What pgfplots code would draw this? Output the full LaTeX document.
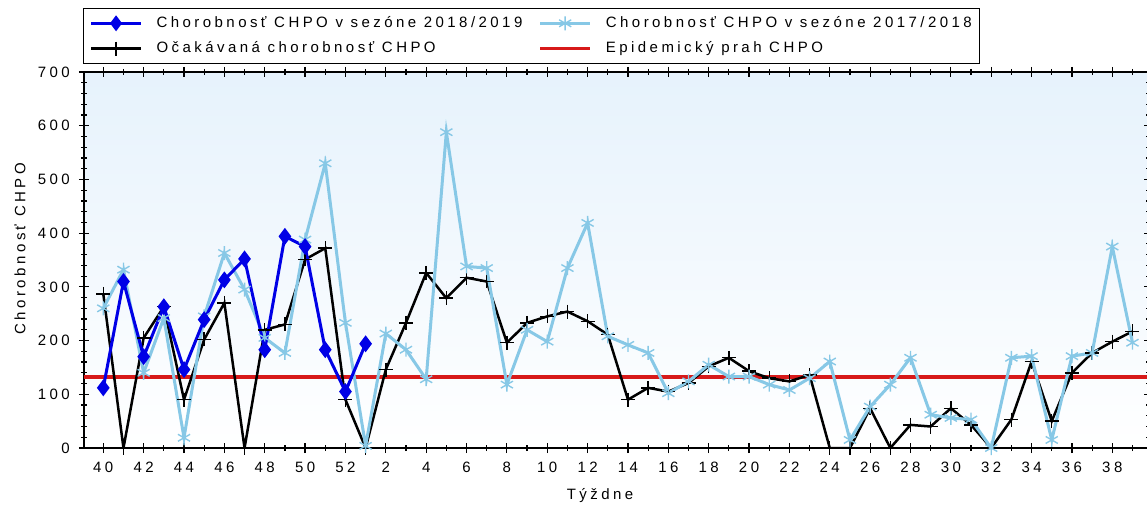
\documentclass[border=0pt]{standalone}
\usepackage{fontspec}
\setmainfont{Liberation Sans}[LetterSpace=23]
\usepackage{pgfplots}
\usepackage{pgfplotstable}
\pgfplotsset{compat=1.18}
\definecolor{cblue}{RGB}{0,0,230}
\definecolor{clblue}{RGB}{135,200,230}
\definecolor{cred}{RGB}{215,25,25}
\definecolor{cbg}{RGB}{230,242,252}
\pgfplotstableread{
i blue lblue black
0 112 260 287
1 310 332 0
2 170 140 205
3 263 242 263
4 146 19 90
5 239 245 202
6 313 363 270
7 352 295 0
8 183 205 220
9 394 177 230
10 375 388 351
11 183 530 372
12 105 233 90
13 194 4 0
14 nan 213 146
15 nan 183 233
16 nan 128 326
17 nan 588 279
18 nan 338 317
19 nan 335 310
20 nan 118 196
21 nan 220 233
22 nan 198 245
23 nan 335 254
24 nan 419 236
25 nan 208 211
26 nan 192 90
27 nan 177 112
28 nan 102 105
29 nan 124 121
30 nan 155 152
31 nan 133 168
32 nan 133 143
33 nan 118 130
34 nan 108 124
35 nan 130 136
36 nan 161 0
37 nan 15 0
38 nan 77 74
39 nan 118 0
40 nan 168 43
41 nan 62 40
42 nan 56 74
43 nan 53 43
44 nan 0 0
45 nan 168 53
46 nan 171 161
47 nan 15 50
48 nan 171 140
49 nan 177 177
50 nan 375 198
51 nan 196 217
}\data
\begin{document}
\fontsize{15}{18}\selectfont
\begin{tikzpicture}[x=1pt,y=1pt]
\begin{axis}[
  at={(0,0)}, anchor=south west,
  scale only axis, width=1065pt, height=376pt,
  xmin=-0.956, xmax=51.82, ymin=0, ymax=700,
  axis line style={line width=1.3pt},
  axis background/.style={top color=cbg, bottom color=white},
  xtick={0,2,...,50},
  xticklabels={40,42,44,46,48,50,52,2,4,6,8,10,12,14,16,18,20,22,24,26,28,30,32,34,36,38},
  minor xtick={1,3,...,51},
  ytick={0,100,...,700},
  minor y tick num=4,
  tick align=center,
  major tick length=10pt, minor tick length=6pt,
  every tick/.style={black, line width=1.2pt},
  every minor tick/.style={black, line width=1.2pt},
  /pgf/number format/assume math mode=true,
  ticklabel style={font=\fontsize{15}{18}\selectfont},
  yticklabel style={xshift=-4pt},
  xticklabel style={yshift=-4pt},
  xlabel={Týždne},
  ylabel={Chorobnosť CHPO},
  label style={font=\fontsize{15}{18}\selectfont},
  xlabel style={at={(axis description cs:0.4845,0)}, anchor=center, yshift=-48pt},
  ylabel style={at={(axis description cs:-0.0601,0.53)}, anchor=center},
  legend columns=2,
  legend cell align=left,
  legend style={at={(axis description cs:-0.001,1.1702)}, anchor=north west,
    draw=black, line width=1.3pt, fill=white,
    font=\fontsize{15}{18}\selectfont,
    inner xsep=6pt, inner ysep=2pt,
    /tikz/every odd column/.append style={column sep=12pt},
    /tikz/every even column/.append style={column sep=14pt},
    nodes={inner ysep=6pt}},
  legend image code/.code={%
    \draw[mark repeat=2,mark phase=2,#1] plot coordinates {(0pt,0pt) (25pt,0pt) (50pt,0pt)};},
]
\addlegendimage{cblue, line width=3pt, mark=diamond*, mark size=5.5pt}
\addlegendentry{Chorobnosť CHPO v sezóne 2018/2019}
\addlegendimage{clblue, line width=3pt, mark=asterisk, mark size=7pt, mark options={line width=1.4pt}}
\addlegendentry{Chorobnosť CHPO v sezóne 2017/2018\hspace{4pt}}
\addlegendimage{black, line width=2.5pt, mark=+, mark size=7pt, mark options={line width=1.4pt}}
\addlegendentry{Očakávaná chorobnosť CHPO}
\addlegendimage{cred, line width=3.5pt}
\addlegendentry{Epidemický prah CHPO}

\addplot[cred, line width=3.5pt, forget plot] coordinates {(-0.956,132) (51.82,132)};
\addplot[black, line width=2.5pt, mark=+, mark size=7pt, mark options={line width=1.4pt}, forget plot] table[x=i,y=black] {\data};
\addplot[clblue, line width=3pt, mark=asterisk, mark size=7pt, mark options={line width=1.4pt}, forget plot] table[x=i,y=lblue] {\data};
\addplot[cblue, line width=3pt, mark=diamond*, mark size=6pt, forget plot, unbounded coords=discard] table[x=i,y=blue] {\data};
\end{axis}
\pgfresetboundingbox
\path[use as bounding box] (-84,-58) rectangle (1063,448);
\end{tikzpicture}
\end{document}
